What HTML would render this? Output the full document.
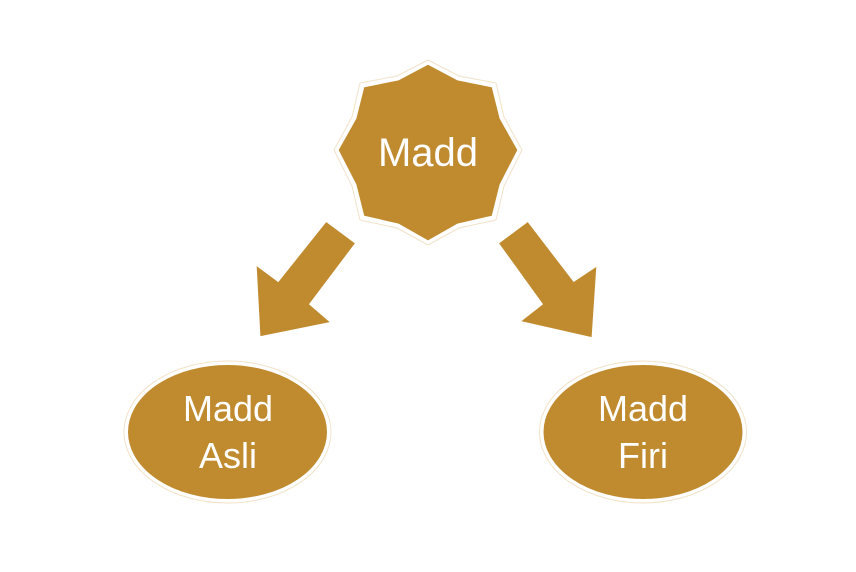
<!DOCTYPE html>
<html><head><meta charset="utf-8"><style>
html,body{margin:0;padding:0;background:#fff;width:856px;height:572px;overflow:hidden}
svg text{font-family:"Liberation Sans",sans-serif;fill:#fff;font-size:36px;text-anchor:middle}
</style></head><body>
<svg width="856" height="572" viewBox="0 0 856 572" xmlns="http://www.w3.org/2000/svg">
<g fill="#C08B2F" stroke="#fff" stroke-width="3" stroke-linejoin="miter">
<polygon points="428,63 458,79 493,86 501,118 519,150 501,185 493,217 458,225 428,242 398,225 363,217 355,185 337,150 355,118 363,86 398,79"/>
<polygon points="326,220 357,243 311,304 333,323 259,338 255,263 278,280"/>
<polygon points="528,220 574,280 598,264 593,339 518,322 541,304 497,243"/>
<ellipse cx="227.5" cy="432" rx="101" ry="68.5"/>
<ellipse cx="643" cy="432" rx="101" ry="68.5"/>
</g>
<g fill="none" stroke="#f0e2c8" stroke-width="1">
<polygon points="428,60 459,76 496,83 504,117 522,150 504,186 496,220 459,228 428,245 397,228 360,220 352,186 334,150 352,117 360,83 397,76"/>
<ellipse cx="227.5" cy="432" rx="103.5" ry="71"/>
<ellipse cx="643" cy="432" rx="103.5" ry="71"/>
</g>
<text x="428" y="166" style="font-size:40px">Madd</text>
<text x="228" y="421">Madd</text>
<text x="228" y="468">Asli</text>
<text x="643" y="421">Madd</text>
<text x="643" y="468">Firi</text>
</svg>
</body></html>
